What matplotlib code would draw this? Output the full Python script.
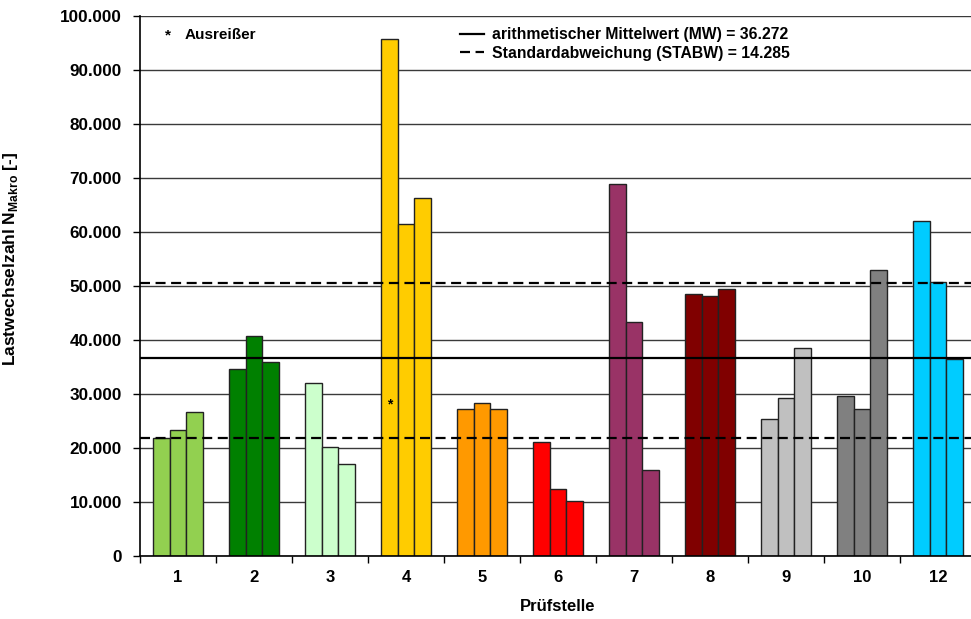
import matplotlib
matplotlib.use("Agg")
import matplotlib.pyplot as plt
import matplotlib.ticker as mticker
from matplotlib.lines import Line2D
import numpy as np

plt.rcParams['font.family'] = ['Liberation Sans', 'DejaVu Sans']
plt.rcParams['font.weight'] = 'bold'
plt.rcParams['mathtext.fontset'] = 'custom'
plt.rcParams['mathtext.rm'] = 'Liberation Sans:bold'
plt.rcParams['mathtext.bf'] = 'Liberation Sans:bold'

# data
pruefstellen = ['1', '2', '3', '4', '5', '6', '7', '8', '9', '10', '12']
werte = [
    [21800, 23270, 26670],
    [34690, 40680, 35860],
    [32040, 20250, 17040],
    [95740, 61420, 66300],
    [27160, 28330, 27160],
    [21050, 12410, 10190],
    [68830, 43330, 15860],
    [48460, 48150, 49380],
    [25430, 29200, 38460],
    [29570, 27160, 52960],
    [62090, 50800, 36540],
]
farben = ['#92D050', '#008000', '#CCFFCC', '#FFCC00', '#FF9900', '#FF0000',
          '#993366', '#800000', '#C0C0C0', '#808080', '#00CCFF']
mw_linie = 36600
stabw_linien = [50600, 21850]
ausreisser_wert = 28000
ausreisser_gruppe = 3

fig = plt.figure(figsize=(9.71, 6.19), dpi=100)
ax = fig.add_axes([140/971, 63/619, 836/971, 540/619])

bw = 0.221
x = np.arange(len(pruefstellen))
for i, (vals, c) in enumerate(zip(werte, farben)):
    for k, v in enumerate(vals):
        ax.bar(x[i] + (k - 1) * bw, v, width=bw, color=c, edgecolor='#222222',
               linewidth=1.0, zorder=2)

# mean and std lines
ax.axhline(mw_linie, color='black', lw=1.6, zorder=3)
for s in stabw_linien:
    ax.axhline(s, color='black', lw=1.6, ls=(0, (4.5, 2.5)), zorder=3)

ax.text(x[ausreisser_gruppe] - bw, ausreisser_wert, '*', ha='center', va='center',
        fontsize=10, zorder=4)

ax.set_xlim(-0.5, len(pruefstellen) - 0.5)
ax.set_ylim(0, 100000)
ax.yaxis.set_major_locator(mticker.MultipleLocator(10000))
ax.yaxis.set_major_formatter(mticker.FuncFormatter(
    lambda v, p: f"{int(v):,}".replace(',', '.')))
ax.grid(axis='y', color='#3a3a3a', lw=1.0, zorder=0)
ax.set_axisbelow(True)

ax.set_xticks(np.arange(-0.5, len(pruefstellen), 1.0))
ax.set_xticklabels([])
ax.set_xticks(x, minor=True)
ax.set_xticklabels(pruefstellen, minor=True, fontsize=12, fontweight='bold')
ax.tick_params(axis='x', which='minor', length=0, pad=10)
ax.tick_params(axis='x', which='major', length=5, width=1, color='black')
ax.tick_params(axis='y', length=5, width=1, labelsize=12.3, pad=8)

for sp in ['top', 'right']:
    ax.spines[sp].set_visible(False)
ax.spines['left'].set_linewidth(1.2)
ax.spines['bottom'].set_linewidth(1.2)

ax.set_xlabel('Prüfstelle', fontsize=12, fontweight='bold', labelpad=10)
ax.set_ylabel(r'Lastwechselzahl N$_\mathbf{Makro}$ [-]', fontsize=12.5,
              fontweight='bold')
ax.yaxis.set_label_coords(-(140 - 20) / 836, 0.55)

# legend-like annotations
ax.text(0.033, 0.964, '*', transform=ax.transAxes, fontsize=11,
        fontweight='bold', va='center', ha='center')
ax.text(0.0535, 0.964, 'Ausreißer', transform=ax.transAxes, fontsize=11,
        fontweight='bold', va='center', ha='left')
handles = [Line2D([], [], color='black', lw=1.6),
           Line2D([], [], color='black', lw=1.6, ls=(0, (4.5, 2.5)))]
labels = ['arithmetischer Mittelwert (MW) = 36.272',
          'Standardabweichung (STABW) = 14.285']
ax.legend(handles, labels, loc='upper left', bbox_to_anchor=(0.368, 1.002),
          frameon=False, handlelength=1.5, handletextpad=0.55,
          labelspacing=0.22, borderaxespad=0.4,
          prop={'weight': 'bold', 'size': 11.3})

fig.savefig('out.png', dpi=100)
